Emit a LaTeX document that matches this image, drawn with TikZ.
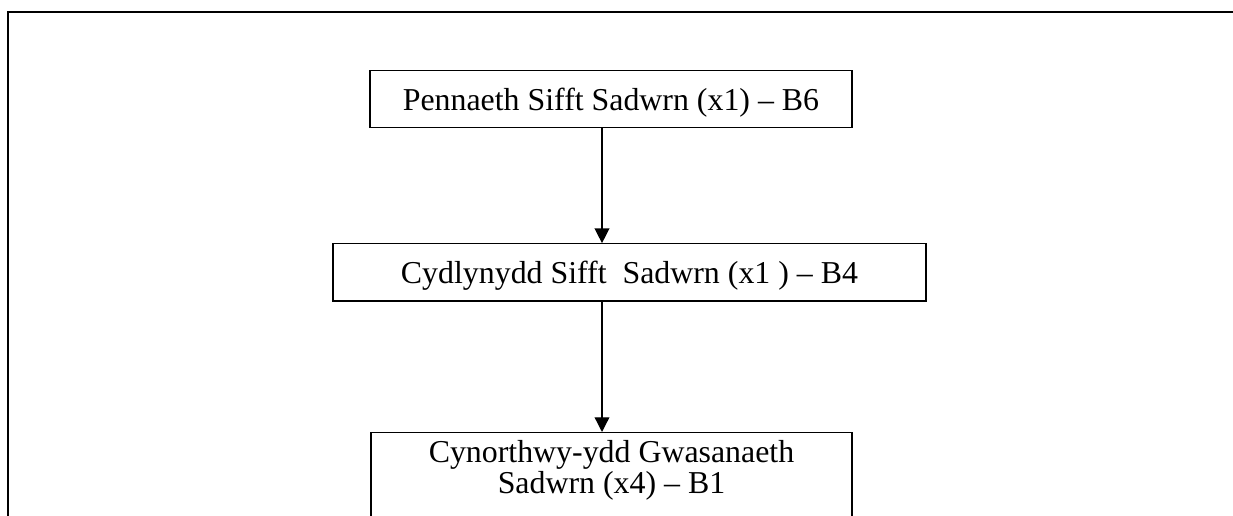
\documentclass[tikz,border=0pt]{standalone}
\usepackage{fontspec}
\setmainfont{Liberation Serif}
\usetikzlibrary{arrows.meta}

\tikzset{
	post/.style={draw, line width=1pt, inner xsep=0pt, inner ysep=0pt, font=\fontsize{23.9}{23.25}\selectfont},
	onerow/.style={text height=30pt, text depth=13pt},
	arr/.style={line width=1pt, -{Triangle[width=11pt,length=11pt]}}
}

\begin{document}
\begin{tikzpicture}[x=0.75pt,y=0.75pt,yscale=-1,xscale=1]
	\useasboundingbox (0,0) rectangle (1233,516);

	% frame
	\draw [line width=1.5pt] (7.7,516) -- (7.7,12) -- (1233,12) ;

	\node [post, onerow, minimum width=361.5pt] (pen) at (611,98.9) {Pennaeth Sifft Sadwrn (x1) -- B6};
	\node [post, onerow, minimum width=444.75pt] (cyd) at (629.5,272.5) {Cydlynydd Sifft\ \ Sadwrn (x1 ) -- B4};
	\node [post, anchor=north, align=center, minimum width=360.75pt, inner ysep=5.8pt, text depth=60pt] (cyn) at (611.5,432) {Cynorthwy-ydd Gwasanaeth\\Sadwrn (x4) -- B1};

	\coordinate (line) at (602,0);
	\draw [arr] (pen.south -| line) -- (cyd.north -| line) ;
	\draw [arr] (cyd.south -| line) -- (cyn.north -| line) ;
\end{tikzpicture}
\end{document}
